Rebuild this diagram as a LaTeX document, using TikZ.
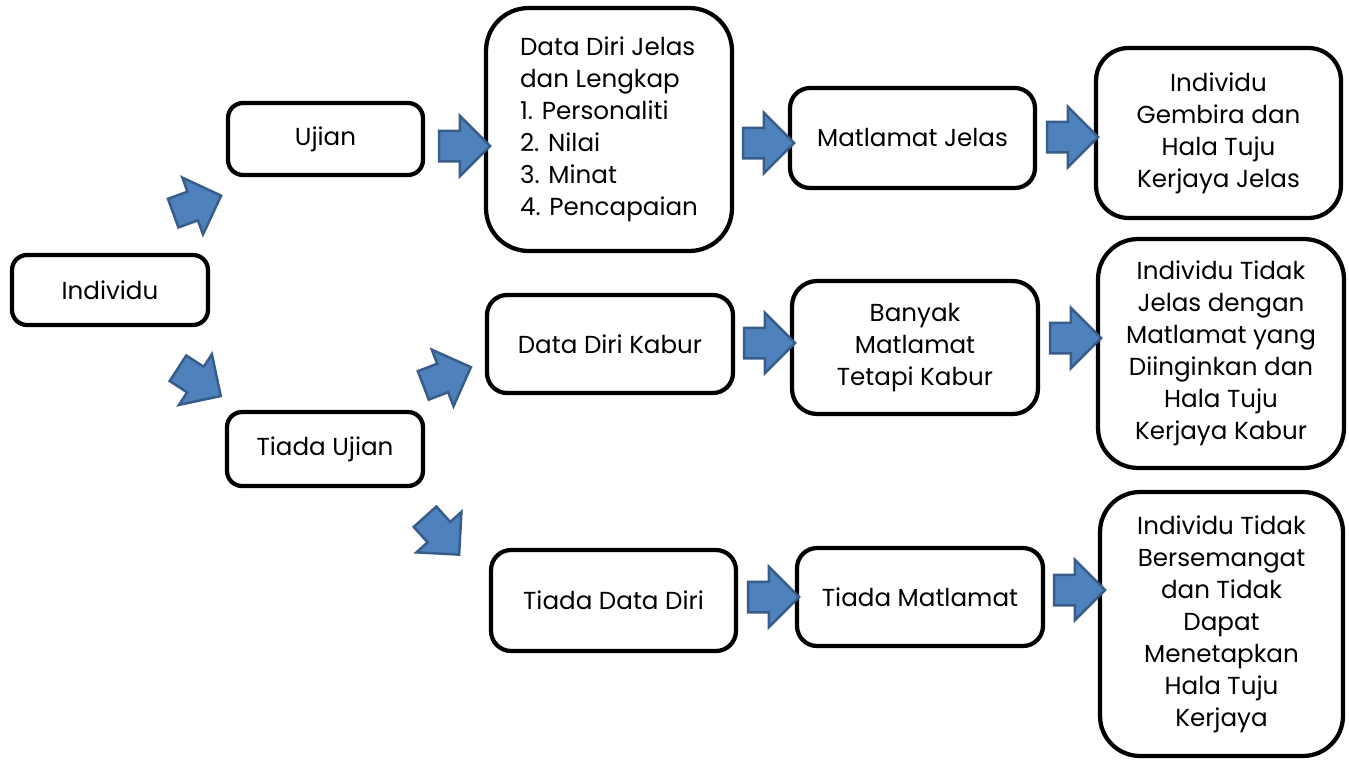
\documentclass[tikz,border=0pt]{standalone}
\usepackage{fontspec}
\setmainfont{Poppins}
\usepackage{tikz}
\usetikzlibrary{shapes.arrows}
\definecolor{arrfill}{HTML}{4F81BD}
\definecolor{arrline}{HTML}{385D8A}
\tikzset{
  box/.style={draw, line width=0.085cm, rounded corners=#1, align=center, inner sep=0pt},
  box/.default=0.3cm,
  blk/.style={single arrow, draw=arrline, fill=arrfill, line width=0.05cm, minimum height=1.02cm,
    inner sep=0.28cm, single arrow head extend=0.3cm, rotate=#1},
  blk/.default=0
}

\begin{document}
\begin{tikzpicture}[x=0.02cm,y=-0.02cm,font=\fontsize{14pt}{18.2pt}\selectfont]
\useasboundingbox (0,0) rectangle (1349,761);
\node[box, minimum width=3.92cm, minimum height=1.40cm] (ind) at (110,290) {Individu};
\node[box, minimum width=3.90cm, minimum height=1.44cm] (uji) at (325.5,139) {Ujian};
\node[box, minimum width=3.92cm, minimum height=1.48cm] (tu) at (325,449) {Tiada Ujian};
\node[box=0.85cm, minimum width=4.92cm, minimum height=4.86cm, align=left] (dj) at (609,129.5)
  {Data Diri Jelas\\dan Lengkap\\1. Personaliti\\2. Nilai\\3. Minat\\4. Pencapaian};
\node[box=0.4cm, minimum width=4.92cm, minimum height=1.96cm] (dk) at (610,344) {Data Diri Kabur};
\node[box=0.4cm, minimum width=4.90cm, minimum height=2.02cm] (td) at (613.5,600.5) {Tiada Data Diri};
\node[box=0.4cm, minimum width=4.90cm, minimum height=2.00cm] (mj) at (912.5,138) {Matlamat Jelas};
\node[box=0.5cm, minimum width=4.92cm, minimum height=2.66cm] (bm) at (915,347.5)
  {Banyak\\Matlamat\\Tetapi Kabur};
\node[box=0.4cm, minimum width=4.92cm, minimum height=1.96cm] (tm) at (920,597) {Tiada Matlamat};
\node[box=0.65cm, minimum width=4.90cm, minimum height=3.40cm] (ig) at (1218.5,133)
  {Individu\\Gembira dan\\Hala Tuju\\Kerjaya Jelas};
\node[box=0.8cm, minimum width=4.92cm, minimum height=4.58cm] (it) at (1221,353.5)
  {Individu Tidak\\Jelas dengan\\Matlamat yang\\Diinginkan dan\\Hala Tuju\\Kerjaya Kabur};
\node[box=0.8cm, minimum width=4.86cm, minimum height=5.28cm] (ib) at (1221.5,624)
  {Individu Tidak\\Bersemangat\\dan Tidak\\Dapat\\Menetapkan\\Hala Tuju\\Kerjaya};
% block arrows
\node[blk=20] (a1) at (190,207) {};
\node[blk=-33] (a2) at (193,378) {};
\node[blk] (a3) at (457,146) {};
\node[blk] (a4) at (761,143) {};
\node[blk] (a5) at (1065,137) {};
\node[blk=21] (a6) at (440,379) {};
\node[blk] (a7) at (762,343) {};
\node[blk] (a8) at (1068,338) {};
\node[blk=-48] (a9) at (437,530) {};
\node[blk] (a10) at (766,597) {};
\node[blk] (a11) at (1072,590) {};
\end{tikzpicture}
\end{document}
